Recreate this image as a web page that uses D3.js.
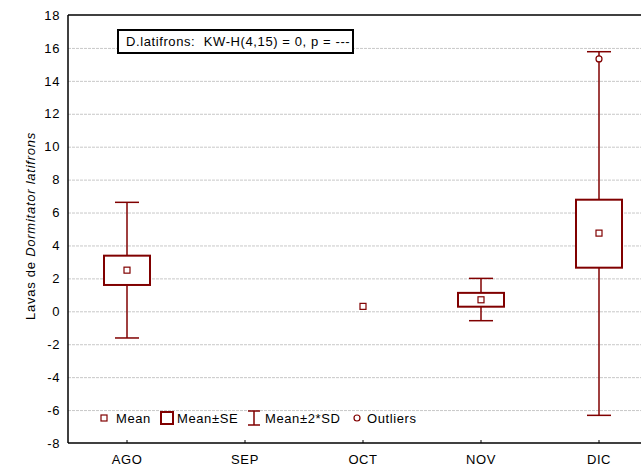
<!DOCTYPE html>
<html><head><meta charset="utf-8">
<script src="https://cdn.jsdelivr.net/npm/d3@7"></script>
<style>body{margin:0;background:#fff}svg{display:block;font-family:Arial,"Liberation Sans",sans-serif}text{letter-spacing:0.6px}</style>
</head><body><svg id="c" width="641" height="470"></svg>
<script>
const categories = ["AGO","SEP","OCT","NOV","DIC"];
const means   = [2.5, null, 0.3, 0.7, 4.75];
const seLow   = [1.6, null, null, 0.28, 2.65];
const seHigh  = [3.38, null, null, 1.12, 6.78];
const sdLow   = [-1.62, null, null, -0.57, -6.32];
const sdHigh  = [6.62, null, null, 2.0, 15.77];
const outliers = [{cat:"DIC", value:15.33}];
const yTicks = [-8,-6,-4,-2,0,2,4,6,8,10,12,14,16,18];
const title = "D.latifrons:  KW-H(4,15) = 0, p = ---";
const col = "#800000";
const FS = 13;

const svg = d3.select("#c");
const L = 68, T = 15, W = 590, H = 428;
const x = d3.scaleBand().domain(categories).range([L, L+W]);
const y = d3.scaleLinear().domain([-8,18]).range([T+H, T]);
const cx = c => x(c) + x.bandwidth()/2;

// gridlines
svg.append("g").selectAll("line").data(yTicks.filter(t=>t>-8 && t<18)).join("line")
  .attr("x1",L).attr("x2",L+W).attr("y1",d=>y(d)+0.5).attr("y2",d=>y(d)+0.5)
  .attr("stroke","#c8c8c8").attr("stroke-width",1).attr("stroke-dasharray","3,1");

// frame
svg.append("line").attr("x1",L).attr("x2",L+W).attr("y1",T).attr("y2",T).attr("stroke","#000").attr("stroke-width",1.5);
svg.append("line").attr("x1",L).attr("x2",L+W).attr("y1",T+H).attr("y2",T+H).attr("stroke","#000").attr("stroke-width",1.5);
svg.append("line").attr("x1",L).attr("x2",L).attr("y1",T).attr("y2",T+H).attr("stroke","#000").attr("stroke-width",1.5);

// y axis labels
const ya = svg.append("g").attr("transform",`translate(${L},0)`)
  .call(d3.axisLeft(y).tickValues(yTicks).tickSize(0).tickPadding(8).tickFormat(d=>String(d)));
ya.select(".domain").remove();
ya.selectAll("text").attr("font-size",FS).attr("fill","#000").attr("font-family","Arial,'Liberation Sans',sans-serif");

// x axis
const xa = svg.append("g").attr("transform",`translate(0,${T+H})`)
  .call(d3.axisBottom(x).tickSize(-3).tickPadding(12));
xa.select(".domain").remove();
xa.selectAll("line").attr("stroke","#000");
xa.selectAll("text").attr("font-size",FS).attr("fill","#000").attr("font-family","Arial,'Liberation Sans',sans-serif");

// y label
const yl = svg.append("text").attr("transform",`translate(35,226) rotate(-90)`)
  .attr("text-anchor","middle").attr("font-size",FS).attr("fill","#000").style("letter-spacing","0.75px");
yl.append("tspan").text("Lavas de ");
yl.append("tspan").attr("font-style","italic").text("Dormitator latifrons");

// boxes
const idx = categories.map((c,i)=>i);
const g = svg.append("g");
idx.filter(i=>sdLow[i]!=null).forEach(i=>{
  const c = categories[i], xc = cx(c);
  g.append("line").attr("x1",xc).attr("x2",xc).attr("y1",y(sdHigh[i])).attr("y2",y(sdLow[i])).attr("stroke",col).attr("stroke-width",1.5);
  [sdHigh[i], sdLow[i]].forEach(v=>g.append("line").attr("x1",xc-12).attr("x2",xc+12).attr("y1",y(v)).attr("y2",y(v)).attr("stroke",col).attr("stroke-width",1.5));
  g.append("rect").attr("x",xc-23).attr("width",46).attr("y",y(seHigh[i])).attr("height",y(seLow[i])-y(seHigh[i]))
    .attr("fill","#fff").attr("stroke",col).attr("stroke-width",2);
});
idx.filter(i=>means[i]!=null).forEach(i=>{
  const xc = cx(categories[i]);
  g.append("rect").attr("x",xc-3).attr("y",y(means[i])-3).attr("width",6).attr("height",6)
    .attr("fill","#fff").attr("stroke",col).attr("stroke-width",1.2);
});
outliers.forEach(o=>{
  g.append("circle").attr("cx",cx(o.cat)).attr("cy",y(o.value)).attr("r",3)
    .attr("fill","#fff").attr("stroke",col).attr("stroke-width",1.2);
});

// title box
svg.append("rect").attr("x",118).attr("y",30).attr("width",235).attr("height",23)
  .attr("fill","#fff").attr("stroke","#000").attr("stroke-width",2);
svg.append("text").attr("x",126).attr("y",46).attr("font-size",FS).attr("fill","#000")
  .style("white-space","pre").text(title);

// legend
const ly = 418;
const lg = svg.append("g").attr("font-size",FS);
lg.append("rect").attr("x",101).attr("y",ly-3).attr("width",6).attr("height",6).attr("fill","#fff").attr("stroke",col).attr("stroke-width",1.2);
lg.append("text").attr("x",116).attr("y",ly+4.5).text("Mean");
lg.append("rect").attr("x",161).attr("y",ly-6).attr("width",12).attr("height",12).attr("fill","#fff").attr("stroke",col).attr("stroke-width",2);
lg.append("text").attr("x",177).attr("y",ly+4.5).text("Mean±SE");
lg.append("line").attr("x1",254).attr("x2",254).attr("y1",ly-7).attr("y2",ly+7).attr("stroke",col).attr("stroke-width",1.5);
lg.append("line").attr("x1",248).attr("x2",260).attr("y1",ly-7).attr("y2",ly-7).attr("stroke",col).attr("stroke-width",1.5);
lg.append("line").attr("x1",248).attr("x2",260).attr("y1",ly+7).attr("y2",ly+7).attr("stroke",col).attr("stroke-width",1.5);
lg.append("text").attr("x",265).attr("y",ly+4.5).text("Mean±2*SD");
lg.append("circle").attr("cx",357).attr("cy",ly).attr("r",3).attr("fill","#fff").attr("stroke",col).attr("stroke-width",1.2);
lg.append("text").attr("x",367).attr("y",ly+4.5).text("Outliers");
</script></body></html>
